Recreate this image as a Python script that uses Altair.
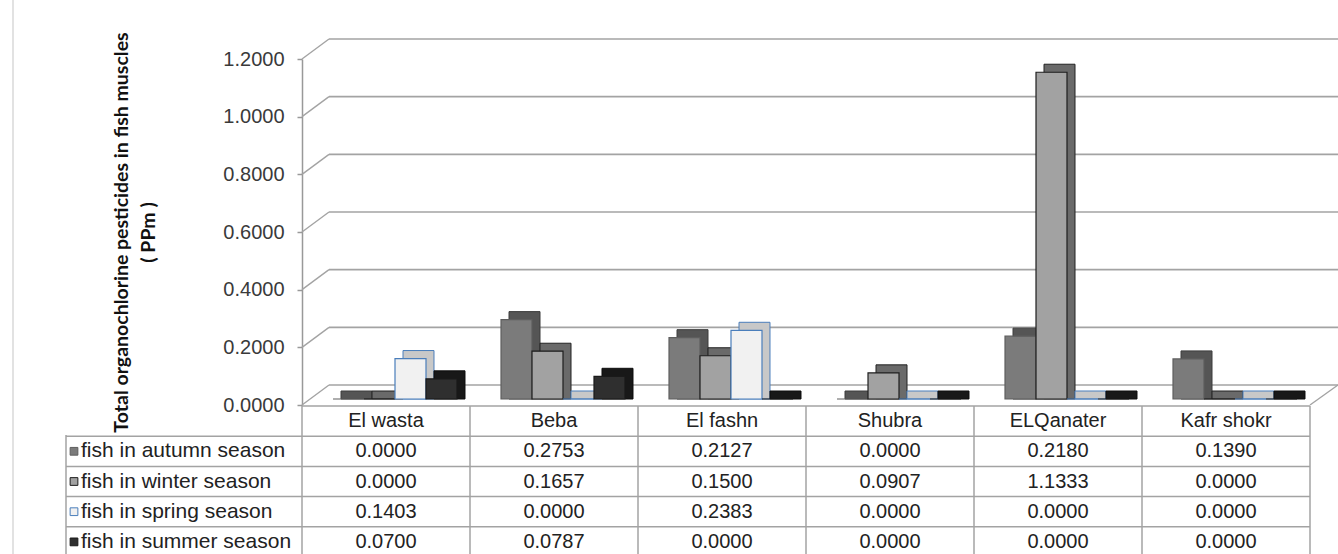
import altair as alt
import pandas as pd

# ---------------- data ----------------
sites = ["El wasta", "Beba", "El fashn", "Shubra", "ELQanater", "Kafr shokr"]
seasons = ["fish in autumn season", "fish in winter season",
           "fish in spring season", "fish in summer season"]
autumn = [0.0000, 0.2753, 0.2127, 0.0000, 0.2180, 0.1390]
winter = [0.0000, 0.1657, 0.1500, 0.0907, 1.1333, 0.0000]
spring = [0.1403, 0.0000, 0.2383, 0.0000, 0.0000, 0.0000]
summer = [0.0700, 0.0787, 0.0000, 0.0000, 0.0000, 0.0000]
y_ticks = [0.0, 0.2, 0.4, 0.6, 0.8, 1.0, 1.2]
y_title = ["Total organochlorine pesticides in fish muscles", "( PPm )"]

# ---------------- styles ----------------
front_fill = ["#7b7b7b", "#a2a2a2", "#f1f1f1", "#2f2f2f"]
front_stroke = ["#5e5e5e", "#1e1e1e", "#4a7ebb", "#1a1a1a"]
side_fill = ["#555555", "#6a6a6a", "#c8c8c8", "#181818"]
side_stroke = ["#3c3c3c", "#222222", "#4a7ebb", "#0c0c0c"]
GRID = "#a3a3a3"
NUMFONT = "Liberation Sans"

records = []
for season, vals in zip(seasons, [autumn, winter, spring, summer]):
    for site, v in zip(sites, vals):
        records.append({"site": site, "season": season, "value": v,
                        "label": f"{v:.4f}", "r": seasons.index(season) + 1.5})
df = pd.DataFrame(records)
ticks_df = pd.DataFrame({"t": y_ticks})
season_df = pd.DataFrame({"season": seasons, "r": [i + 1.5 for i in range(len(seasons))]})
site_df = pd.DataFrame({"site": sites})

W, H = 1036, 554
TABLE_W = 1008

y_front = alt.Scale(domain=[0, 1.2], range=[405, 59])
y_bar = alt.Scale(domain=[0, 1.2], range=[399, 53])
x_bar = alt.Scale(domain=sites, range=[9, TABLE_W + 9], paddingInner=0.262, paddingOuter=0.131)
x_side = alt.Scale(domain=sites, range=[17, TABLE_W + 17], paddingInner=0.262, paddingOuter=0.131)
x_col = alt.Scale(domain=sites, range=[0, TABLE_W], paddingInner=0, paddingOuter=0)
row_scale = alt.Scale(domain=[0, 5], range=[406, 557])
xoff = alt.Scale(domain=seasons, paddingInner=0, paddingOuter=0)

# outer border (left edge of the chart frame)
border = alt.Chart(pd.DataFrame({"a": [0]})).mark_rule(color="#cfcfcf", strokeWidth=1.2).encode(
    x=alt.value(-289), y=alt.value(0), y2=alt.value(H))

# back-wall gridlines (with the real y axis)
grid = alt.Chart(ticks_df).mark_rule(color=GRID, strokeWidth=1.6, yOffset=-20).encode(
    x=alt.value(27), x2=alt.value(W),
    y=alt.Y("t:Q", scale=y_front,
            axis=alt.Axis(values=y_ticks, format=".4f", labelFont=NUMFONT, labelFontSize=20,
                          labelColor="#3a3a3a", labelPadding=13, tickSize=5, tickColor="#999999",
                          tickWidth=1.5, domainColor="#999999", domainWidth=1.5, grid=False,
                          title=y_title, titleFont="Lato", titleFontSize=19.5, titleFontWeight="bold",
                          titleColor="#111111", titleAngle=270, titleAlign="center",
                          titleBaseline="top", titleX=-190, titleY=232, titleLineHeight=27)))

# diagonal connectors from the front axis to the back wall
diag = alt.Chart(ticks_df).mark_rule(color=GRID, strokeWidth=1.4, y2Offset=-20).encode(
    x=alt.value(0), x2=alt.value(27),
    y=alt.Y("t:Q", scale=y_front, axis=None), y2=alt.Y2("t:Q"))

floor_right = alt.Chart(pd.DataFrame({"t": [0.0]})).mark_rule(color=GRID, strokeWidth=1.4, y2Offset=-20).encode(
    x=alt.value(TABLE_W), x2=alt.value(W),
    y=alt.Y("t:Q", scale=y_front, axis=None), y2=alt.Y2("t:Q"))

# pseudo-3D side/top faces
side = alt.Chart(df).mark_bar(yOffset=-8, strokeWidth=1).encode(
    x=alt.X("site:N", scale=x_side, axis=None),
    xOffset=alt.XOffset("season:N", scale=xoff),
    y=alt.Y("value:Q", scale=y_bar, axis=None),
    y2=alt.datum(0),
    fill=alt.Fill("season:N", scale=alt.Scale(domain=seasons, range=side_fill), legend=None),
    stroke=alt.Stroke("season:N", scale=alt.Scale(domain=seasons, range=side_stroke), legend=None))

front = alt.Chart(df).mark_bar(strokeWidth=1.2).encode(
    x=alt.X("site:N", scale=x_bar, axis=None),
    xOffset=alt.XOffset("season:N", scale=xoff),
    y=alt.Y("value:Q", scale=y_bar, axis=None),
    y2=alt.datum(0),
    fill=alt.Fill("season:N", scale=alt.Scale(domain=seasons, range=front_fill), legend=None),
    stroke=alt.Stroke("season:N", scale=alt.Scale(domain=seasons, range=front_stroke), legend=None),
    tooltip=["site", "season", "label"])

# ---------------- data table ----------------
edges_df = pd.DataFrame({"k": list(range(len(sites) + 1))})
vlines = alt.Chart(edges_df).mark_rule(color=GRID, strokeWidth=1.5).encode(
    x=alt.X("k:Q", scale=alt.Scale(domain=[0, len(sites)], range=[0, TABLE_W]), axis=None),
    y=alt.value(406), y2=alt.value(H))

left_border = alt.Chart(pd.DataFrame({"a": [0]})).mark_rule(color=GRID, strokeWidth=1.5).encode(
    x=alt.value(-236), y=alt.value(435), y2=alt.value(H))

hline_top = alt.Chart(pd.DataFrame({"r": [0]})).mark_rule(color=GRID, strokeWidth=1.5).encode(
    x=alt.value(0), x2=alt.value(TABLE_W),
    y=alt.Y("r:Q", scale=row_scale, axis=None))

hlines = alt.Chart(pd.DataFrame({"r": [1, 2, 3, 4]})).mark_rule(color=GRID, strokeWidth=1.5).encode(
    x=alt.value(-236), x2=alt.value(TABLE_W),
    y=alt.Y("r:Q", scale=row_scale, axis=None))

header = alt.Chart(site_df).mark_text(font=NUMFONT, fontSize=20, color="#222222",
                                       baseline="middle", align="center").encode(
    x=alt.X("site:N", scale=x_col, axis=None),
    y=alt.value(421),
    text="site:N")

row_labels = alt.Chart(season_df).mark_text(font=NUMFONT, fontSize=21, color="#222222",
                                            baseline="middle", align="left").encode(
    x=alt.value(-221),
    y=alt.Y("r:Q", scale=row_scale, axis=None),
    text="season:N")

keys = alt.Chart(season_df).mark_square(size=60, opacity=1, strokeWidth=1).encode(
    x=alt.value(-228),
    y=alt.Y("r:Q", scale=row_scale, axis=None),
    fill=alt.Fill("season:N", scale=alt.Scale(domain=seasons, range=front_fill), legend=None),
    stroke=alt.Stroke("season:N", scale=alt.Scale(domain=seasons, range=front_stroke), legend=None))

cells = alt.Chart(df).mark_text(font=NUMFONT, fontSize=20, color="#222222",
                                baseline="middle", align="center").encode(
    x=alt.X("site:N", scale=x_col, axis=None),
    y=alt.Y("r:Q", scale=row_scale, axis=None),
    text="label:N")

chart = alt.layer(
    border, grid, diag, floor_right, side, front,
    vlines, left_border, hline_top, hlines, header, row_labels, keys, cells
).resolve_scale(
    x="independent", y="independent", fill="independent", stroke="independent"
).properties(
    width=W, height=H,
    autosize=alt.AutoSizeParams(type="none"),
    padding={"left": 302, "top": 0, "right": 0, "bottom": 0},
    background="white",
).configure_view(strokeWidth=0)

chart.save("out.html", embed_options={"renderer": "svg", "actions": False})
